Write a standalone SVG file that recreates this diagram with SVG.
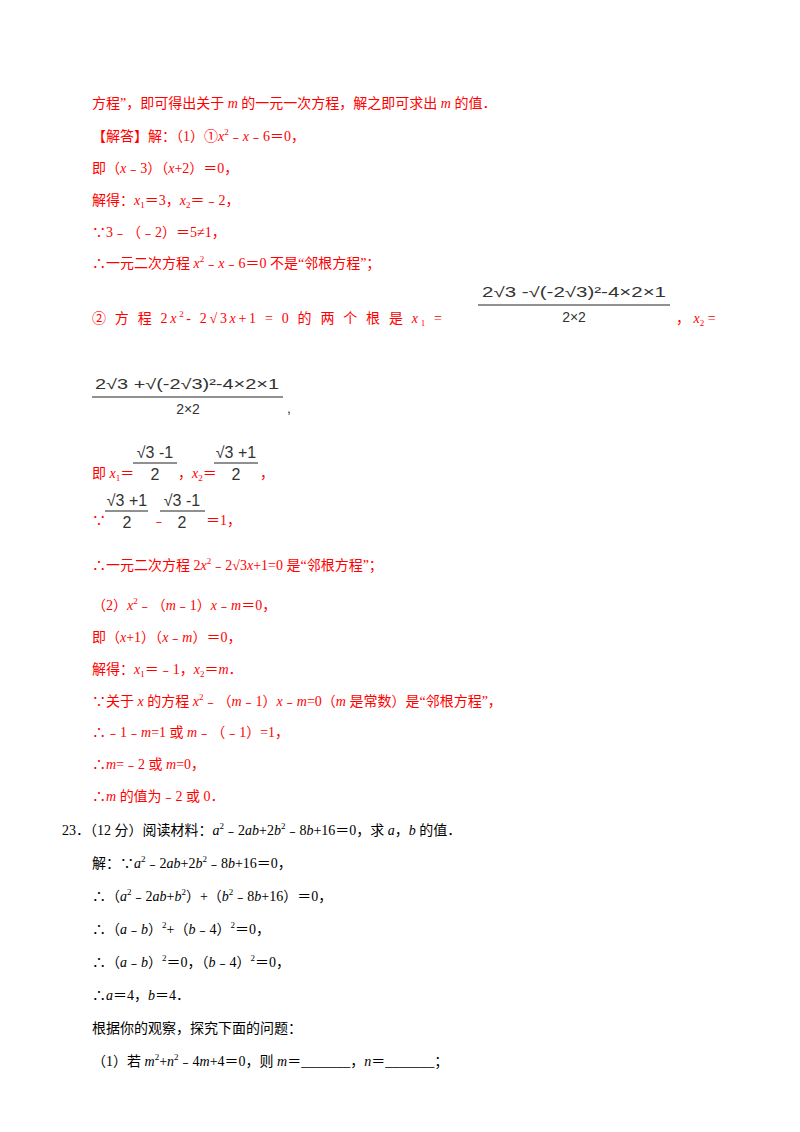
<svg xmlns="http://www.w3.org/2000/svg" width="800" height="1132" viewBox="0 0 800 1132">
<style>
text{font-family:"Liberation Sans","Noto Sans CJK SC",sans-serif;font-size:14px}
text{font-family:"Liberation Serif","Noto Sans CJK SC",serif}
.r{fill:#ff0000}
.k{fill:#000}
.f{font-family:"Liberation Sans","Noto Sans CJK SC",sans-serif;font-size:14px;fill:#333}
.s{font-size:16px}
.i{font-style:italic}
line{stroke:#222;stroke-width:1}
</style>
<rect width="800" height="1132" fill="#fff"/>
<g class="r">
<text x="92" y="108" class="r">方程”，即可得出关于 <tspan class="i">m</tspan> 的一元一次方程，解之即可求出 <tspan class="i">m</tspan> 的值．</text>
<text x="92" y="141" class="r">【解答】解：（1）①<tspan class="i">x</tspan><tspan font-size="9" dy="-6">2</tspan><tspan dy="6">﹣<tspan class="i">x</tspan>﹣6＝0，</tspan></text>
<text x="92" y="173" class="r">即（<tspan class="i">x</tspan>﹣3）（<tspan class="i">x</tspan>+2）＝0，</text>
<text x="92" y="205" class="r">解得：<tspan class="i">x</tspan><tspan font-size="9" dy="3">1</tspan><tspan dy="-3">＝3，</tspan><tspan class="i">x</tspan><tspan font-size="9" dy="3">2</tspan><tspan dy="-3">＝﹣2，</tspan></text>
<text x="92" y="237" class="r">∵3﹣（﹣2）＝5≠1，</text>
<text x="92" y="268" class="r">∴一元二次方程 <tspan class="i">x</tspan><tspan font-size="9" dy="-6">2</tspan><tspan dy="6">﹣<tspan class="i">x</tspan>﹣6＝0 不是“邻根方程”；</tspan></text>
<text x="92" y="323" class="r" font-size="15" textLength="350" lengthAdjust="spacing">② 方 程 2<tspan class="i">x</tspan><tspan font-size="9" dy="-6">2</tspan><tspan dy="6">- 2√3<tspan class="i">x</tspan>+1 = 0 的 两 个 根 是 <tspan class="i">x</tspan></tspan><tspan font-size="9" dy="3">1</tspan><tspan dy="-3"> =</tspan></text>
<text x="676" y="323" class="r">，  <tspan class="i">x</tspan><tspan font-size="9" dy="3">2</tspan><tspan dy="-3">    =</tspan></text>
<text x="92" y="478" class="r">即 <tspan class="i">x</tspan><tspan font-size="9" dy="3">1</tspan><tspan dy="-3">＝</tspan></text>
<text x="178" y="478" class="r">，<tspan class="i">x</tspan><tspan font-size="9" dy="3">2</tspan><tspan dy="-3">＝</tspan></text>
<text x="260" y="478" class="r">，</text>
<text x="92" y="525" class="r">∵</text>
<text x="152" y="525" class="r">﹣</text>
<text x="206" y="525" class="r">＝1，</text>
<text x="92" y="570" class="r">∴一元二次方程 2<tspan class="i">x</tspan><tspan font-size="9" dy="-6">2</tspan><tspan dy="6">﹣2√3<tspan class="i">x</tspan>+1=0 是“邻根方程”；</tspan></text>
<text x="92" y="610" class="r">（2）<tspan class="i">x</tspan><tspan font-size="9" dy="-6">2</tspan><tspan dy="6">﹣（<tspan class="i">m</tspan>﹣1）<tspan class="i">x</tspan>﹣<tspan class="i">m</tspan>＝0，</tspan></text>
<text x="92" y="642" class="r">即（<tspan class="i">x</tspan>+1）（<tspan class="i">x</tspan>﹣<tspan class="i">m</tspan>）＝0，</text>
<text x="92" y="674" class="r">解得：<tspan class="i">x</tspan><tspan font-size="9" dy="3">1</tspan><tspan dy="-3">＝﹣1，</tspan><tspan class="i">x</tspan><tspan font-size="9" dy="3">2</tspan><tspan dy="-3">＝<tspan class="i">m</tspan>．</tspan></text>
<text x="92" y="706" class="r">∵关于 <tspan class="i">x</tspan> 的方程 <tspan class="i">x</tspan><tspan font-size="9" dy="-6">2</tspan><tspan dy="6">﹣（<tspan class="i">m</tspan>﹣1）<tspan class="i">x</tspan>﹣<tspan class="i">m</tspan>=0（<tspan class="i">m</tspan> 是常数）是“邻根方程”，</tspan></text>
<text x="92" y="737" class="r">∴﹣1﹣<tspan class="i">m</tspan>=1 或 <tspan class="i">m</tspan>﹣（﹣1）=1，</text>
<text x="92" y="769" class="r">∴<tspan class="i">m</tspan>=﹣2 或 <tspan class="i">m</tspan>=0，</text>
<text x="92" y="801" class="r">∴<tspan class="i">m</tspan> 的值为﹣2 或 0．</text>
</g>
<g id="fractions">
<text x="482" y="297" class="f" textLength="184" lengthAdjust="spacingAndGlyphs">2√3 -√(-2√3)²-4×2×1</text>
<line x1="478" y1="305" x2="670" y2="305"/>
<text x="574" y="322" class="f" text-anchor="middle">2×2</text>
<text x="95" y="389" class="f" textLength="184" lengthAdjust="spacingAndGlyphs">2√3 +√(-2√3)²-4×2×1</text>
<line x1="92" y1="397" x2="283" y2="397"/>
<text x="188" y="414" class="f" text-anchor="middle">2×2</text>
<text x="287" y="413" class="f">,</text>
<text x="155" y="458" class="f s" text-anchor="middle">√3 -1</text>
<line x1="133" y1="463" x2="177" y2="463"/>
<text x="155" y="480" class="f s" text-anchor="middle">2</text>
<text x="236" y="458" class="f s" text-anchor="middle">√3 +1</text>
<line x1="214" y1="463" x2="258" y2="463"/>
<text x="236" y="480" class="f s" text-anchor="middle">2</text>
<text x="127" y="506" class="f s" text-anchor="middle">√3 +1</text>
<line x1="105" y1="511" x2="148" y2="511"/>
<text x="127" y="528" class="f s" text-anchor="middle">2</text>
<text x="182" y="506" class="f s" text-anchor="middle">√3 -1</text>
<line x1="160" y1="511" x2="205" y2="511"/>
<text x="182" y="528" class="f s" text-anchor="middle">2</text>
</g>
<g class="k">
<text x="62" y="835">23．（12 分）阅读材料：<tspan class="i">a</tspan><tspan font-size="9" dy="-6">2</tspan><tspan dy="6">﹣2<tspan class="i">ab</tspan>+2<tspan class="i">b</tspan></tspan><tspan font-size="9" dy="-6">2</tspan><tspan dy="6">﹣8<tspan class="i">b</tspan>+16＝0，求 <tspan class="i">a</tspan>，<tspan class="i">b</tspan> 的值．</tspan></text>
<text x="92" y="868">解：∵<tspan class="i">a</tspan><tspan font-size="9" dy="-6">2</tspan><tspan dy="6">﹣2<tspan class="i">ab</tspan>+2<tspan class="i">b</tspan></tspan><tspan font-size="9" dy="-6">2</tspan><tspan dy="6">﹣8<tspan class="i">b</tspan>+16＝0，</tspan></text>
<text x="92" y="901">∴（<tspan class="i">a</tspan><tspan font-size="9" dy="-6">2</tspan><tspan dy="6">﹣2<tspan class="i">ab</tspan>+<tspan class="i">b</tspan></tspan><tspan font-size="9" dy="-6">2</tspan><tspan dy="6">）+（<tspan class="i">b</tspan></tspan><tspan font-size="9" dy="-6">2</tspan><tspan dy="6">﹣8<tspan class="i">b</tspan>+16）＝0，</tspan></text>
<text x="92" y="934">∴（<tspan class="i">a</tspan>﹣<tspan class="i">b</tspan>）<tspan font-size="9" dy="-6">2</tspan><tspan dy="6">+（<tspan class="i">b</tspan>﹣4）</tspan><tspan font-size="9" dy="-6">2</tspan><tspan dy="6">＝0，</tspan></text>
<text x="92" y="967">∴（<tspan class="i">a</tspan>﹣<tspan class="i">b</tspan>）<tspan font-size="9" dy="-6">2</tspan><tspan dy="6">＝0，（<tspan class="i">b</tspan>﹣4）</tspan><tspan font-size="9" dy="-6">2</tspan><tspan dy="6">＝0，</tspan></text>
<text x="92" y="1000">∴<tspan class="i">a</tspan>＝4，<tspan class="i">b</tspan>＝4．</text>
<text x="92" y="1033">根据你的观察，探究下面的问题：</text>
<text x="92" y="1066">（1）若 <tspan class="i">m</tspan><tspan font-size="9" dy="-6">2</tspan><tspan dy="6">+<tspan class="i">n</tspan></tspan><tspan font-size="9" dy="-6">2</tspan><tspan dy="6">﹣4<tspan class="i">m</tspan>+4＝0，则 <tspan class="i">m</tspan>＝_______，<tspan class="i">n</tspan>＝_______；</tspan></text>
</g>
</svg>
